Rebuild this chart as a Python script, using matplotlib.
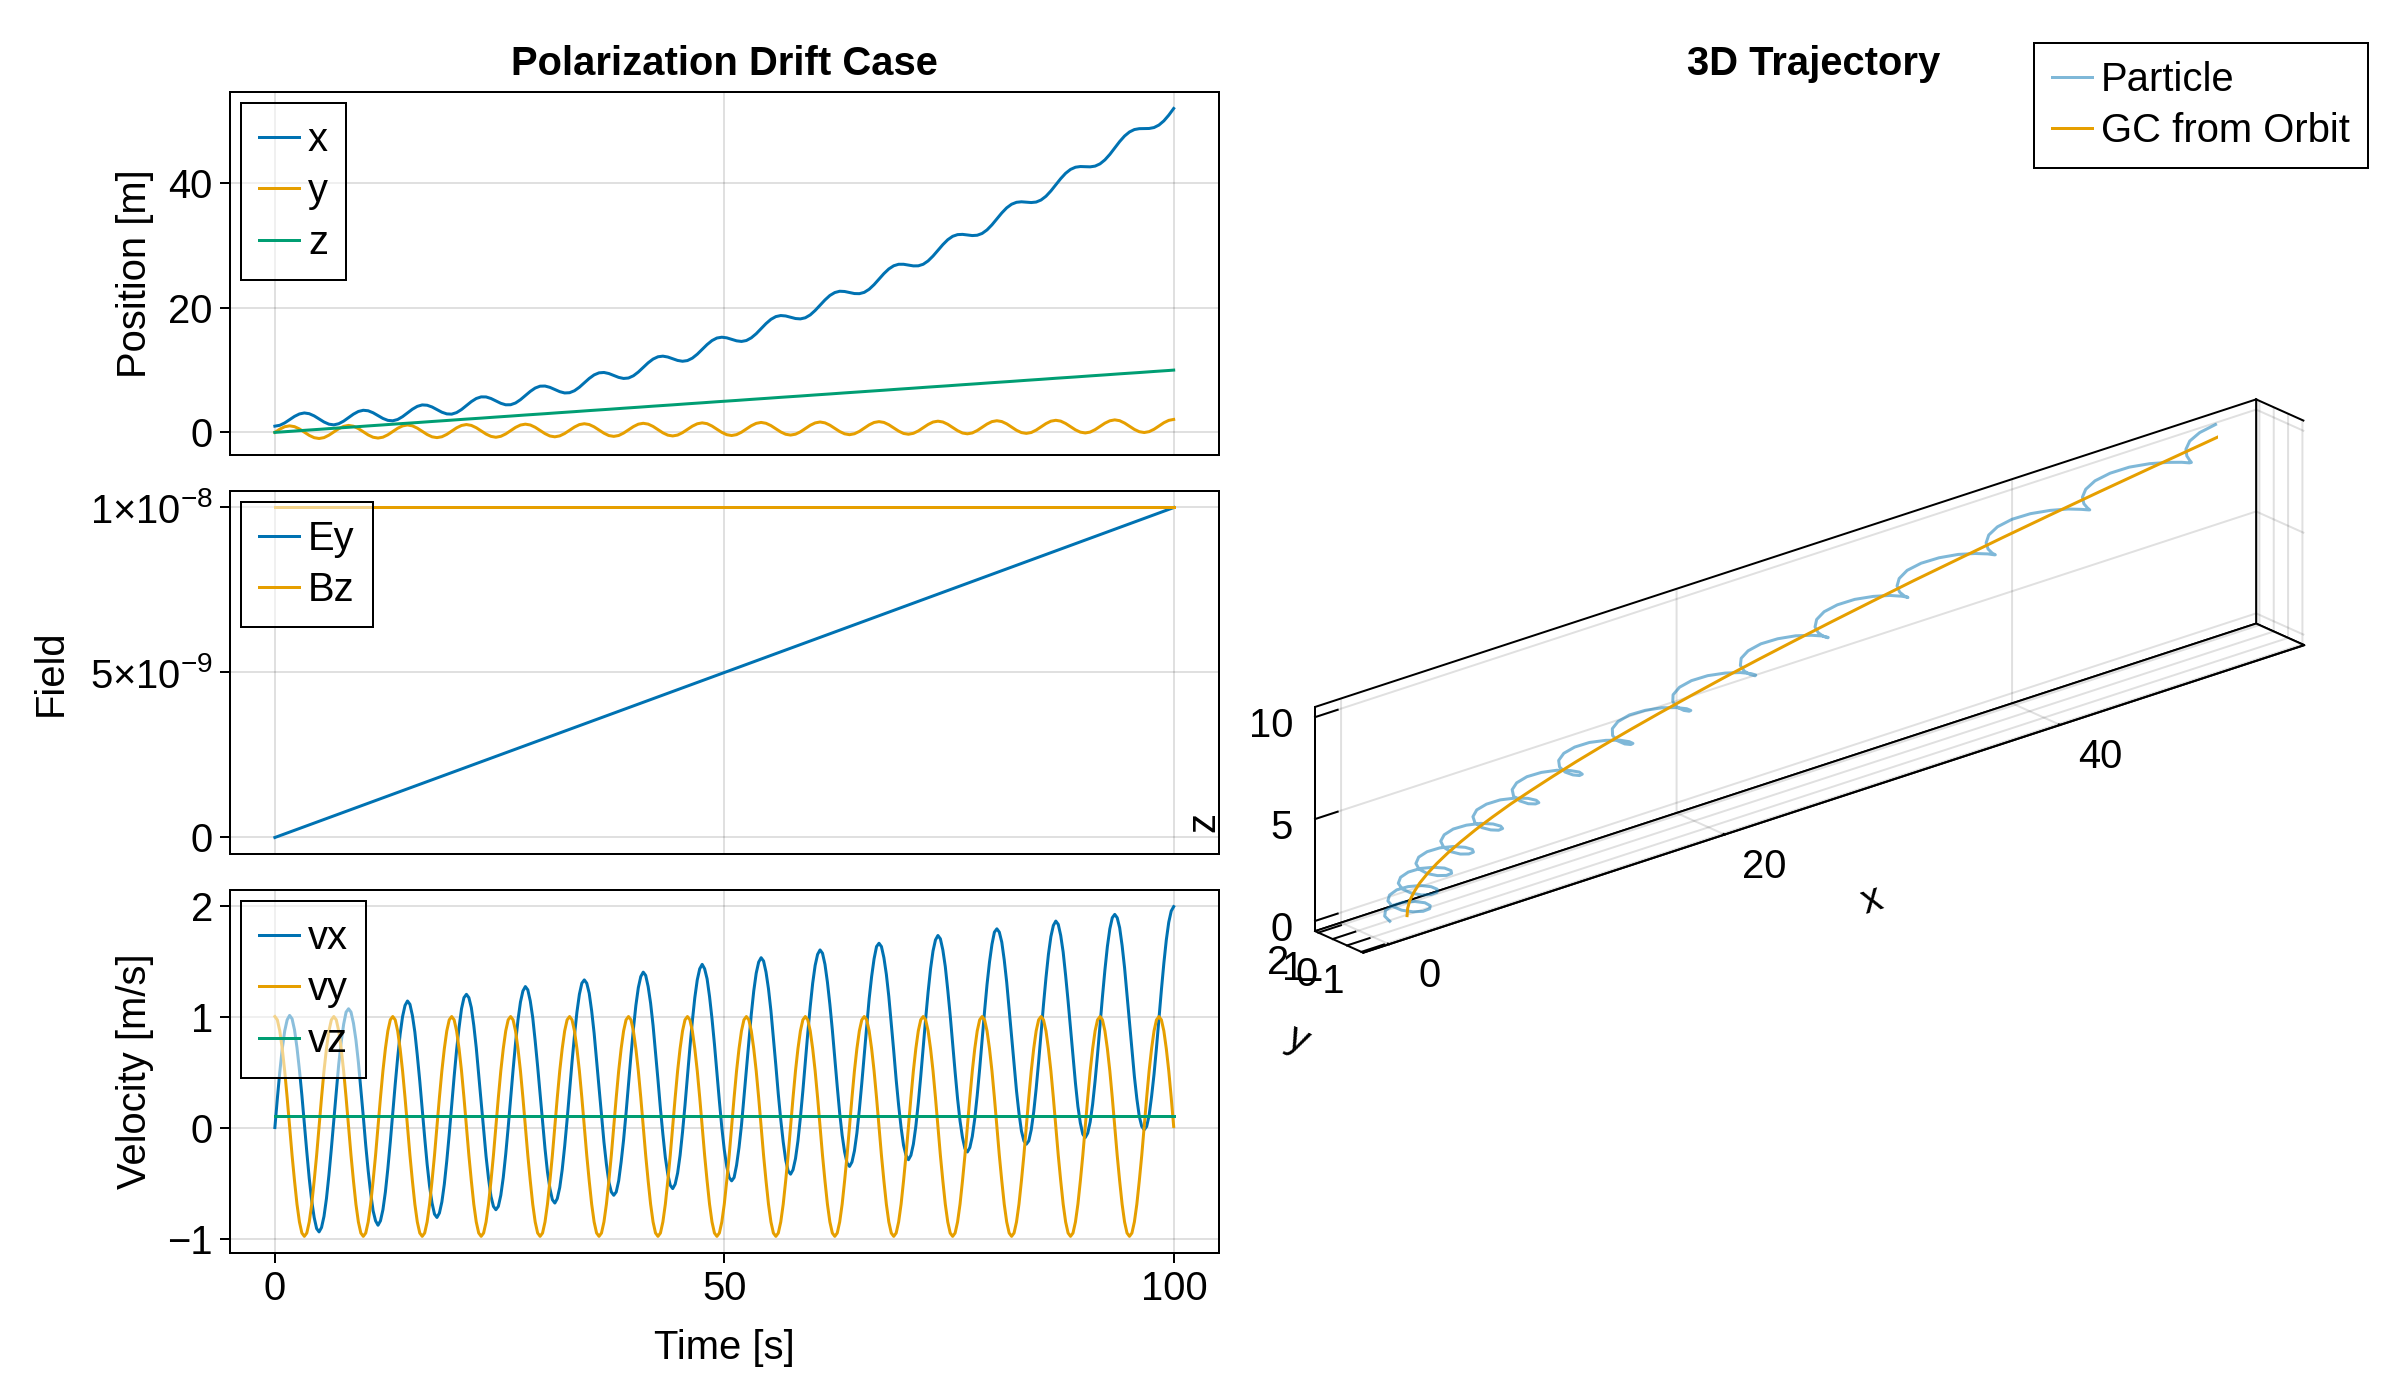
import numpy as np
import matplotlib
matplotlib.use('Agg')
import matplotlib.pyplot as plt
from matplotlib.ticker import NullFormatter
from mpl_toolkits.mplot3d import proj3d

plt.rcParams['font.family'] = ['Liberation Sans', 'DejaVu Sans']
plt.rcParams['font.size'] = 14.4
plt.rcParams['mathtext.fontset'] = 'custom'
plt.rcParams['mathtext.rm'] = 'Liberation Sans'
plt.rcParams['mathtext.it'] = 'Liberation Sans:italic'

BLUE = '#0072B2'
ORANGE = '#E69F00'
GREEN = '#009E73'

time_pos = np.arange(184) * 0.54625
# velocity samples every 1/24 of a gyration
time_vel = np.arange(367) * 0.273125

# position [m], one row per gyration
pos_x = [
    1.00, 1.14, 1.52, 2.05, 2.57, 2.96, 3.12, 3.00, 2.65, 2.15, 1.67, 1.32,
    1.21, 1.39, 1.81, 2.37, 2.93, 3.36, 3.55, 3.47, 3.15, 2.69, 2.24, 1.93,
    1.86, 2.07, 2.53, 3.12, 3.72, 4.18, 4.41, 4.36, 4.08, 3.66, 3.24, 2.97,
    2.93, 3.18, 3.67, 4.30, 4.94, 5.44, 5.70, 5.69, 5.44, 5.05, 4.67, 4.43,
    4.44, 4.72, 5.25, 5.91, 6.58, 7.12, 7.42, 7.44, 7.23, 6.88, 6.54, 6.33,
    6.37, 6.69, 7.25, 7.95, 8.66, 9.23, 9.56, 9.62, 9.45, 9.14, 8.83, 8.66,
    8.73, 9.09, 9.69, 10.42, 11.17, 11.77, 12.14, 12.24, 12.10, 11.82, 11.55, 11.42,
    11.53, 11.92, 12.55, 13.33, 14.10, 14.74, 15.15, 15.28, 15.18, 14.94, 14.70, 14.60,
    14.75, 15.18, 15.84, 16.66, 17.47, 18.15, 18.59, 18.76, 18.69, 18.48, 18.28, 18.22,
    18.40, 18.86, 19.57, 20.41, 21.26, 21.98, 22.45, 22.66, 22.62, 22.46, 22.29, 22.27,
    22.48, 22.98, 23.72, 24.60, 25.49, 26.24, 26.75, 26.99, 26.99, 26.86, 26.73, 26.74,
    26.99, 27.53, 28.31, 29.22, 30.14, 30.93, 31.48, 31.75, 31.79, 31.69, 31.60, 31.65,
    31.94, 32.51, 33.32, 34.27, 35.23, 36.05, 36.63, 36.94, 37.02, 36.96, 36.90, 36.98,
    37.31, 37.91, 38.76, 39.75, 40.74, 41.60, 42.22, 42.57, 42.68, 42.65, 42.63, 42.75,
    43.11, 43.75, 44.63, 45.66, 46.69, 47.58, 48.23, 48.62, 48.76, 48.77, 48.79, 48.94,
    49.34, 50.01, 50.93, 52.00,
]
pos_y = [
    0.00, 0.52, 0.91, 1.05, 0.92, 0.55, 0.03, -0.48, -0.85, -0.98, -0.84, -0.45,
    0.07, 0.59, 0.97, 1.12, 0.99, 0.61, 0.10, -0.41, -0.78, -0.91, -0.77, -0.39,
    0.14, 0.66, 1.04, 1.19, 1.05, 0.68, 0.17, -0.34, -0.71, -0.84, -0.70, -0.32,
    0.21, 0.73, 1.11, 1.26, 1.12, 0.75, 0.24, -0.27, -0.64, -0.78, -0.63, -0.25,
    0.27, 0.80, 1.18, 1.32, 1.19, 0.82, 0.31, -0.20, -0.58, -0.71, -0.56, -0.18,
    0.34, 0.86, 1.25, 1.39, 1.26, 0.89, 0.38, -0.13, -0.51, -0.64, -0.50, -0.11,
    0.41, 0.93, 1.32, 1.46, 1.33, 0.96, 0.44, -0.07, -0.44, -0.57, -0.43, -0.04,
    0.48, 1.00, 1.38, 1.53, 1.40, 1.02, 0.51, 0.00, -0.37, -0.50, -0.36, 0.03,
    0.55, 1.07, 1.45, 1.60, 1.46, 1.09, 0.58, 0.07, -0.30, -0.43, -0.29, 0.09,
    0.62, 1.14, 1.52, 1.67, 1.53, 1.16, 0.65, 0.14, -0.23, -0.37, -0.22, 0.16,
    0.68, 1.21, 1.59, 1.73, 1.60, 1.23, 0.72, 0.21, -0.17, -0.30, -0.15, 0.23,
    0.75, 1.27, 1.66, 1.80, 1.67, 1.30, 0.79, 0.28, -0.10, -0.23, -0.09, 0.30,
    0.82, 1.34, 1.73, 1.87, 1.74, 1.37, 0.86, 0.34, -0.03, -0.16, -0.02, 0.37,
    0.89, 1.41, 1.80, 1.94, 1.81, 1.43, 0.92, 0.41, 0.04, -0.09, 0.05, 0.44,
    0.96, 1.48, 1.86, 2.01, 1.88, 1.50, 0.99, 0.48, 0.11, -0.02, 0.12, 0.50,
    1.03, 1.55, 1.93, 2.08,
]
pos_z = [
    0.00, 0.05, 0.11, 0.16, 0.22, 0.27, 0.33, 0.38, 0.44, 0.49, 0.55, 0.60,
    0.66, 0.71, 0.76, 0.82, 0.87, 0.93, 0.98, 1.04, 1.09, 1.15, 1.20, 1.26,
    1.31, 1.37, 1.42, 1.47, 1.53, 1.58, 1.64, 1.69, 1.75, 1.80, 1.86, 1.91,
    1.97, 2.02, 2.08, 2.13, 2.19, 2.24, 2.29, 2.35, 2.40, 2.46, 2.51, 2.57,
    2.62, 2.68, 2.73, 2.79, 2.84, 2.90, 2.95, 3.00, 3.06, 3.11, 3.17, 3.22,
    3.28, 3.33, 3.39, 3.44, 3.50, 3.55, 3.61, 3.66, 3.71, 3.77, 3.82, 3.88,
    3.93, 3.99, 4.04, 4.10, 4.15, 4.21, 4.26, 4.32, 4.37, 4.42, 4.48, 4.53,
    4.59, 4.64, 4.70, 4.75, 4.81, 4.86, 4.92, 4.97, 5.03, 5.08, 5.13, 5.19,
    5.24, 5.30, 5.35, 5.41, 5.46, 5.52, 5.57, 5.63, 5.68, 5.74, 5.79, 5.84,
    5.90, 5.95, 6.01, 6.06, 6.12, 6.17, 6.23, 6.28, 6.34, 6.39, 6.45, 6.50,
    6.56, 6.61, 6.66, 6.72, 6.77, 6.83, 6.88, 6.94, 6.99, 7.05, 7.10, 7.16,
    7.21, 7.27, 7.32, 7.37, 7.43, 7.48, 7.54, 7.59, 7.65, 7.70, 7.76, 7.81,
    7.87, 7.92, 7.98, 8.03, 8.08, 8.14, 8.19, 8.25, 8.30, 8.36, 8.41, 8.47,
    8.52, 8.58, 8.63, 8.69, 8.74, 8.79, 8.85, 8.90, 8.96, 9.01, 9.07, 9.12,
    9.18, 9.23, 9.29, 9.34, 9.40, 9.45, 9.50, 9.56, 9.61, 9.67, 9.72, 9.78,
    9.83, 9.89, 9.94, 10.00,
]

# velocity [m/s], one row per gyration
vel_x = [
    0.00, 0.26, 0.50, 0.71, 0.87, 0.97, 1.01, 0.98, 0.88, 0.72, 0.52, 0.29,
    0.03, -0.22, -0.46, -0.66, -0.81, -0.91, -0.94, -0.90, -0.80, -0.64, -0.43, -0.19,
    0.07, 0.32, 0.57, 0.77, 0.93, 1.04, 1.07, 1.04, 0.94, 0.79, 0.59, 0.35,
    0.10, -0.16, -0.39, -0.59, -0.75, -0.84, -0.88, -0.84, -0.74, -0.58, -0.37, -0.13,
    0.13, 0.39, 0.63, 0.84, 1.00, 1.10, 1.14, 1.11, 1.01, 0.86, 0.65, 0.42,
    0.16, -0.09, -0.33, -0.53, -0.68, -0.78, -0.81, -0.77, -0.67, -0.51, -0.30, -0.06,
    0.20, 0.46, 0.70, 0.90, 1.07, 1.17, 1.20, 1.17, 1.08, 0.92, 0.72, 0.48,
    0.23, -0.02, -0.26, -0.46, -0.62, -0.71, -0.74, -0.71, -0.61, -0.45, -0.24, 0.00,
    0.26, 0.52, 0.76, 0.97, 1.13, 1.23, 1.27, 1.24, 1.14, 0.99, 0.78, 0.55,
    0.30, 0.04, -0.19, -0.40, -0.55, -0.65, -0.68, -0.64, -0.54, -0.38, -0.17, 0.07,
    0.33, 0.59, 0.83, 1.04, 1.20, 1.30, 1.33, 1.30, 1.21, 1.05, 0.85, 0.61,
    0.36, 0.11, -0.13, -0.33, -0.49, -0.58, -0.61, -0.58, -0.48, -0.31, -0.11, 0.13,
    0.39, 0.65, 0.89, 1.10, 1.26, 1.36, 1.40, 1.37, 1.27, 1.12, 0.92, 0.68,
    0.43, 0.17, -0.06, -0.27, -0.42, -0.52, -0.55, -0.51, -0.41, -0.25, -0.04, 0.20,
    0.46, 0.72, 0.96, 1.17, 1.33, 1.43, 1.47, 1.43, 1.34, 1.18, 0.98, 0.75,
    0.49, 0.24, 0.00, -0.20, -0.35, -0.45, -0.48, -0.45, -0.34, -0.18, 0.02, 0.27,
    0.52, 0.78, 1.02, 1.23, 1.39, 1.49, 1.53, 1.50, 1.40, 1.25, 1.05, 0.81,
    0.56, 0.30, 0.07, -0.13, -0.29, -0.39, -0.42, -0.38, -0.28, -0.12, 0.09, 0.33,
    0.59, 0.85, 1.09, 1.30, 1.46, 1.56, 1.60, 1.57, 1.47, 1.31, 1.11, 0.88,
    0.62, 0.37, 0.13, -0.07, -0.22, -0.32, -0.35, -0.31, -0.21, -0.05, 0.16, 0.40,
    0.66, 0.91, 1.16, 1.36, 1.52, 1.63, 1.66, 1.63, 1.53, 1.38, 1.18, 0.94,
    0.69, 0.43, 0.20, 0.00, -0.16, -0.25, -0.29, -0.25, -0.15, 0.01, 0.22, 0.46,
    0.72, 0.98, 1.22, 1.43, 1.59, 1.69, 1.73, 1.70, 1.60, 1.45, 1.24, 1.01,
    0.75, 0.50, 0.26, 0.06, -0.09, -0.19, -0.22, -0.18, -0.08, 0.08, 0.29, 0.53,
    0.79, 1.05, 1.29, 1.49, 1.65, 1.76, 1.79, 1.76, 1.67, 1.51, 1.31, 1.07,
    0.82, 0.57, 0.33, 0.13, -0.03, -0.12, -0.15, -0.12, -0.02, 0.14, 0.35, 0.59,
    0.85, 1.11, 1.35, 1.56, 1.72, 1.82, 1.86, 1.83, 1.73, 1.58, 1.37, 1.14,
    0.89, 0.63, 0.40, 0.19, 0.04, -0.06, -0.09, -0.05, 0.05, 0.21, 0.42, 0.66,
    0.92, 1.18, 1.42, 1.63, 1.79, 1.89, 1.92, 1.89, 1.80, 1.64, 1.44, 1.20,
    0.95, 0.70, 0.46, 0.26, 0.10, 0.01, -0.02, 0.01, 0.11, 0.28, 0.48, 0.72,
    0.98, 1.24, 1.48, 1.69, 1.85, 1.95, 1.99,
]
vel_y = [
    1.00, 0.97, 0.87, 0.71, 0.51, 0.27, 0.01, -0.25, -0.48, -0.69, -0.85, -0.95,
    -0.98, -0.95, -0.85, -0.69, -0.48, -0.25, 0.01, 0.27, 0.51, 0.71, 0.87, 0.97,
    1.00, 0.97, 0.87, 0.71, 0.51, 0.27, 0.01, -0.25, -0.48, -0.69, -0.85, -0.95,
    -0.98, -0.95, -0.85, -0.69, -0.48, -0.25, 0.01, 0.27, 0.51, 0.71, 0.87, 0.97,
    1.00, 0.97, 0.87, 0.71, 0.51, 0.27, 0.01, -0.25, -0.48, -0.69, -0.85, -0.95,
    -0.98, -0.95, -0.85, -0.69, -0.48, -0.25, 0.01, 0.27, 0.51, 0.71, 0.87, 0.97,
    1.00, 0.97, 0.87, 0.71, 0.51, 0.27, 0.01, -0.25, -0.48, -0.69, -0.85, -0.95,
    -0.98, -0.95, -0.85, -0.69, -0.48, -0.25, 0.01, 0.27, 0.51, 0.71, 0.87, 0.97,
    1.00, 0.97, 0.87, 0.71, 0.51, 0.27, 0.01, -0.25, -0.48, -0.69, -0.85, -0.95,
    -0.98, -0.95, -0.85, -0.69, -0.48, -0.25, 0.01, 0.27, 0.51, 0.71, 0.87, 0.97,
    1.00, 0.97, 0.87, 0.71, 0.51, 0.27, 0.01, -0.25, -0.48, -0.69, -0.85, -0.95,
    -0.98, -0.95, -0.85, -0.69, -0.48, -0.25, 0.01, 0.27, 0.51, 0.71, 0.87, 0.97,
    1.00, 0.97, 0.87, 0.71, 0.51, 0.27, 0.01, -0.25, -0.48, -0.69, -0.85, -0.95,
    -0.98, -0.95, -0.85, -0.69, -0.48, -0.25, 0.01, 0.27, 0.51, 0.71, 0.87, 0.97,
    1.00, 0.97, 0.87, 0.71, 0.51, 0.27, 0.01, -0.25, -0.48, -0.69, -0.85, -0.95,
    -0.98, -0.95, -0.85, -0.69, -0.48, -0.25, 0.01, 0.27, 0.51, 0.71, 0.87, 0.97,
    1.00, 0.97, 0.87, 0.71, 0.51, 0.27, 0.01, -0.25, -0.48, -0.69, -0.85, -0.95,
    -0.98, -0.95, -0.85, -0.69, -0.48, -0.25, 0.01, 0.27, 0.51, 0.71, 0.87, 0.97,
    1.00, 0.97, 0.87, 0.71, 0.51, 0.27, 0.01, -0.25, -0.48, -0.69, -0.85, -0.95,
    -0.98, -0.95, -0.85, -0.69, -0.48, -0.25, 0.01, 0.27, 0.51, 0.71, 0.87, 0.97,
    1.00, 0.97, 0.87, 0.71, 0.51, 0.27, 0.01, -0.25, -0.48, -0.69, -0.85, -0.95,
    -0.98, -0.95, -0.85, -0.69, -0.48, -0.25, 0.01, 0.27, 0.51, 0.71, 0.87, 0.97,
    1.00, 0.97, 0.87, 0.71, 0.51, 0.27, 0.01, -0.25, -0.48, -0.69, -0.85, -0.95,
    -0.98, -0.95, -0.85, -0.69, -0.48, -0.25, 0.01, 0.27, 0.51, 0.71, 0.87, 0.97,
    1.00, 0.97, 0.87, 0.71, 0.51, 0.27, 0.01, -0.25, -0.48, -0.69, -0.85, -0.95,
    -0.98, -0.95, -0.85, -0.69, -0.48, -0.25, 0.01, 0.27, 0.51, 0.71, 0.87, 0.97,
    1.00, 0.97, 0.87, 0.71, 0.51, 0.27, 0.01, -0.25, -0.48, -0.69, -0.85, -0.95,
    -0.98, -0.95, -0.85, -0.69, -0.48, -0.25, 0.01, 0.27, 0.51, 0.71, 0.87, 0.97,
    1.00, 0.97, 0.87, 0.71, 0.51, 0.27, 0.01, -0.25, -0.48, -0.69, -0.85, -0.95,
    -0.98, -0.95, -0.85, -0.69, -0.48, -0.25, 0.01, 0.27, 0.51, 0.71, 0.87, 0.97,
    1.00, 0.97, 0.87, 0.71, 0.51, 0.27, 0.01,
]

# constant / linear series, given at the two ends of the run
time_ends = [0, 100]
vel_z = [0.1, 0.1]
field_ey = [0.0, 1e-8]
field_bz = [1e-8, 1e-8]

# guiding centre, every half gyration
gc_x = [2.03, 2.09, 2.25, 2.52, 2.89, 3.38, 3.97, 4.66, 5.47, 6.38, 7.40, 8.53,
        9.77, 11.11, 12.56, 14.12, 15.78, 17.55, 19.43, 21.42, 23.52, 25.72,
        28.03, 30.44, 32.97, 35.60, 38.34, 41.19, 44.14, 47.20, 50.37, 52.00]
gc_y = [0.00, 0.03, 0.07, 0.10, 0.14, 0.17, 0.20, 0.24, 0.27, 0.31, 0.34, 0.38,
        0.41, 0.44, 0.48, 0.51, 0.55, 0.58, 0.61, 0.65, 0.68, 0.72, 0.75, 0.78,
        0.82, 0.85, 0.89, 0.92, 0.95, 0.99, 1.02, 1.04]
gc_z = [0.00, 0.33, 0.66, 0.98, 1.31, 1.64, 1.97, 2.29, 2.62, 2.95, 3.28, 3.61,
        3.93, 4.26, 4.59, 4.92, 5.24, 5.57, 5.90, 6.23, 6.56, 6.88, 7.21, 7.54,
        7.87, 8.19, 8.52, 8.85, 9.18, 9.50, 9.83, 10.00]

# 3D tick labels
x3_ticks = [0, 20, 40]
y3_ticks = [-1, 0, 1, 2]
z3_ticks = [0, 5, 10]

LW = 1.08
THIN = 0.72
GRID = (0, 0, 0, 0.12)
FW, FH = 2400, 1400

fig = plt.figure(figsize=(12, 7), dpi=200)
fig.patch.set_facecolor('white')


def style_2d(ax):
    ax.set_xlim(-5, 105)
    ax.set_xticks([0, 50, 100])
    ax.grid(True, color='black', alpha=0.12, linewidth=THIN)
    ax.set_axisbelow(True)
    for sp in ax.spines.values():
        sp.set_linewidth(THIN)
    ax.tick_params(direction='out', length=3.6, width=THIN, pad=2.5, labelsize=14.4)


def style_legend(leg, face):
    fr = leg.get_frame()
    fr.set_alpha(None)
    fr.set_facecolor(face)
    fr.set_edgecolor('black')
    fr.set_linewidth(THIN)


LEG_KW = dict(fontsize=14.4, handlelength=1.0, handletextpad=0.22,
              labelspacing=0.33, borderpad=0.45, fancybox=False)


def add_legend(ax):
    leg = ax.legend(loc='upper left', borderaxespad=0.28, **LEG_KW)
    style_legend(leg, (1, 1, 1, 0.55))


L, W, H = 0.0958, 0.4121, 0.2593

ax1 = fig.add_axes([L, 0.675, W, H])
ax1.plot(time_pos, pos_x, color=BLUE, lw=LW, label='x')
ax1.plot(time_pos, pos_y, color=ORANGE, lw=LW, label='y')
ax1.plot(time_pos, pos_z, color=GREEN, lw=LW, label='z')
style_2d(ax1)
ax1.set_ylim(-3.63, 54.65)
ax1.set_yticks([0, 20, 40])
ax1.tick_params(axis='x', length=0, labelbottom=False)
ax1.set_ylabel('Position [m]')
ax1.yaxis.set_label_coords(-0.077, 0.5)
add_legend(ax1)

ax2 = fig.add_axes([L, 0.39, W, H])
ax2.plot(time_ends, field_ey, color=BLUE, lw=LW, label='Ey')
ax2.plot(time_ends, field_bz, color=ORANGE, lw=LW, label='Bz')
style_2d(ax2)
ax2.set_ylim(-0.5e-9, 1.05e-8)
ax2.set_yticks([0, 5e-9, 1e-8])
ax2.set_yticklabels(['0', r'$5{\times}10^{-9}$', r'$1{\times}10^{-8}$'])
ax2.tick_params(axis='x', length=0, labelbottom=False)
ax2.set_ylabel('Field')
ax2.yaxis.set_label_coords(-0.162, 0.5)
add_legend(ax2)

ax3 = fig.add_axes([L, 0.105, W, H])
ax3.plot(time_vel, vel_x, color=BLUE, lw=LW, label='vx')
ax3.plot(time_vel, vel_y, color=ORANGE, lw=LW, label='vy')
ax3.plot(time_ends, vel_z, color=GREEN, lw=LW, label='vz')
style_2d(ax3)
ax3.set_ylim(-1.13, 2.14)
ax3.set_yticks([-1, 0, 1, 2])
ax3.set_ylabel('Velocity [m/s]')
ax3.yaxis.set_label_coords(-0.077, 0.5)
ax3.set_xlabel('Time [s]', labelpad=7.5)
add_legend(ax3)

fig.text(0.3019, 0.9464, 'Polarization Drift Case', ha='center', va='baseline',
         fontweight='bold', fontsize=14.4)
fig.text(0.7555, 0.9464, '3D Trajectory', ha='center', va='baseline',
         fontweight='bold', fontsize=14.4)

# 3D trajectory
XL, YL, ZL = (-1.55, 54.55), (-1.13, 2.23), (-0.5, 10.5)
a3 = fig.add_axes([0.5193, 0.209, 0.46, 0.6], projection='3d')
a3.set_proj_type('ortho')
a3.view_init(elev=22.5, azim=-130.5)
p_line, = a3.plot(pos_x, pos_y, pos_z, color=BLUE, alpha=0.5, lw=LW, label='Particle')
g_line, = a3.plot(gc_x, gc_y, gc_z, color=ORANGE, lw=LW, label='GC from Orbit')
a3.set_xlim(*XL)
a3.set_ylim(*YL)
a3.set_zlim(*ZL)
a3.set_box_aspect((56.1, 3.36, 11.0), zoom=1.46)
a3.set_xticks(x3_ticks)
a3.set_yticks(y3_ticks)
a3.set_zticks(z3_ticks)
for axis in (a3.xaxis, a3.yaxis, a3.zaxis):
    axis.set_major_formatter(NullFormatter())
    axis.set_pane_color((1, 1, 1, 1))
    axis.pane.set_edgecolor('black')
    axis.pane.set_linewidth(THIN)
    axis.line.set_linewidth(THIN)
    axis._axinfo['grid'].update(color=GRID, linewidth=THIN)
    axis._axinfo['tick'].update(inward_factor=0.0, outward_factor=0.3)
    axis._axinfo['tick']['linewidth'] = {True: THIN, False: THIN}
a3.patch.set_alpha(0)

# tick labels placed at the projected tick positions
fig.canvas.draw()
M = a3.M


def tick_text(xyz, txt, dx, dy, ha):
    px, py, _ = proj3d.proj_transform(xyz[0], xyz[1], xyz[2], M)
    X, Y = a3.transData.transform((px, py))
    fig.text((X + dx) / FW, (Y - dy) / FH, txt, ha=ha, va='center', fontsize=14.4)


for v in x3_ticks:
    tick_text((v, YL[0], ZL[0]), str(v), 40, 32, 'center')
for v in y3_ticks:
    tick_text((XL[0], v, ZL[0]), str(v).replace('-', '\u2212'), -40, 30, 'center')
for v in z3_ticks:
    tick_text((XL[0], YL[1], v), str(v), -22, 9, 'right')

fig.text(1203 / FW, 1 - 822 / FH, 'z', rotation=90, ha='center', va='center')
fig.text(1872 / FW, 1 - 900 / FH, 'x', rotation=18, ha='center', va='center')
fig.text(1298 / FW, 1 - 1040 / FH, 'y', rotation=-25, ha='center', va='center')

leg3 = fig.legend(handles=[p_line, g_line], loc='upper right',
                  bbox_to_anchor=(2368 / FW, 1 - 43 / FH), borderaxespad=0,
                  **LEG_KW)
style_legend(leg3, 'white')

fig.savefig('out.png', dpi=200)
